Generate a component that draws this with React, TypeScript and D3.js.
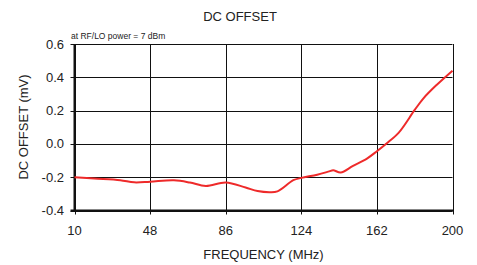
import React from "react";
import * as d3 from "d3";

const freq = [10, 20, 33, 40, 48, 60, 68, 76, 86, 96, 102, 108, 112, 120, 124, 132, 138, 140, 143.8, 150, 157, 162, 167, 173, 181, 185.4, 192, 200];
const offset = [-0.2, -0.208, -0.218, -0.231, -0.227, -0.219, -0.232, -0.253, -0.232, -0.262, -0.283, -0.29, -0.285, -0.218, -0.204, -0.185, -0.165, -0.158, -0.172, -0.132, -0.088, -0.044, 0.004, 0.068, 0.204, 0.274, 0.354, 0.44];
const xTicks = [10, 48, 86, 124, 162, 200];
const yTicks = [-0.4, -0.2, 0.0, 0.2, 0.4, 0.6];

const W = 477, H = 265;
const L = 74.5, R = 452.5, T = 44, B = 210.5;

export default function App() {
  const x = d3.scaleLinear().domain([10, 200]).range([L, R]);
  const y = d3.scaleLinear().domain([-0.4, 0.6]).range([B, T]);
  const line = d3
    .line<number>()
    .x((_, i) => x(freq[i]))
    .y((d) => y(d))
    .curve(d3.curveCatmullRom.alpha(0.5));
  const font = "Liberation Sans, Arial, sans-serif";
  return (
    <svg width={W} height={H} style={{ position: "absolute", left: 0, top: 0 }} fontFamily={font}>
      <rect x={0} y={0} width={W} height={H} fill="#fff" />
      <text x={240} y={21} fontSize={13} textAnchor="middle" fill="#222">DC OFFSET</text>
      <text x={71} y={39} fontSize={8.5} fill="#222">at RF/LO power = 7 dBm</text>
      {yTicks.map((t) => (
        <g key={"y" + t}>
          <line x1={L - 4} x2={R} y1={Math.round(y(t)) + 0.5} y2={Math.round(y(t)) + 0.5} stroke="#111" strokeWidth={1} />
          <text x={64} y={y(t) + 4.5} fontSize={13} textAnchor="end" fill="#222">{t.toFixed(1)}</text>
        </g>
      ))}
      {xTicks.map((t) => (
        <g key={"x" + t}>
          <line x1={Math.round(x(t)) + 0.5} x2={Math.round(x(t)) + 0.5} y1={T} y2={B + 4} stroke="#111" strokeWidth={1} />
          <text x={x(t)} y={235} fontSize={13} textAnchor="middle" fill="#222">{t}</text>
        </g>
      ))}
      <line x1={L} x2={L} y1={T} y2={B + 1} stroke="#111" strokeWidth={2} />
      <line x1={L - 4} x2={R + 1} y1={B} y2={B} stroke="#111" strokeWidth={2} />
      <path d={line(offset) || ""} fill="none" stroke="#ee2a2a" strokeWidth={2} />
      <text x={263.5} y={259} fontSize={13} textAnchor="middle" fill="#222">FREQUENCY (MHz)</text>
      <text transform={`translate(28,127) rotate(-90)`} fontSize={13} textAnchor="middle" fill="#222">DC OFFSET (mV)</text>
    </svg>
  );
}
